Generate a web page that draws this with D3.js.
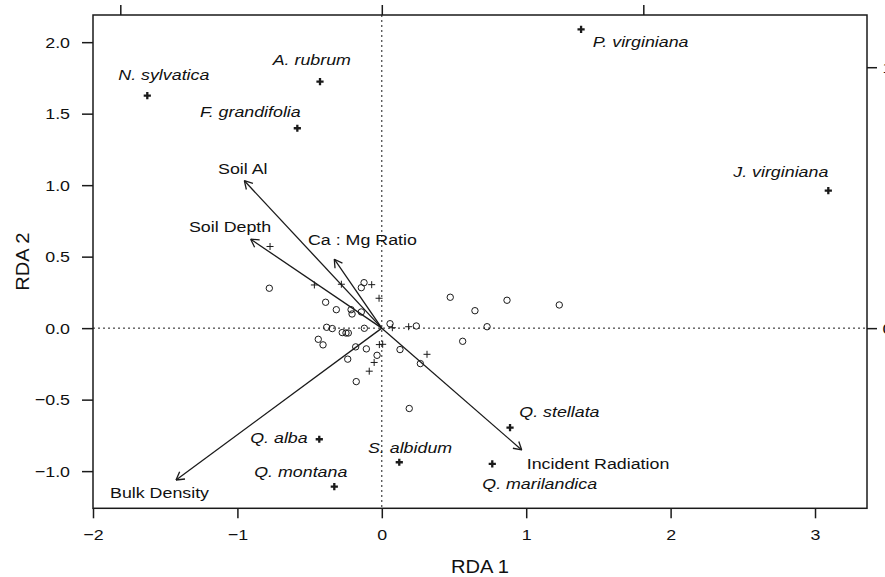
<!DOCTYPE html>
<html>
<head>
<meta charset="utf-8">
<script src="https://cdn.jsdelivr.net/npm/d3@7"></script>
<style>
body { margin: 0; background: #fff; }
text { font-family: "Liberation Sans", Arial, sans-serif; fill: #111; }
</style>
</head>
<body>
<div id="chart"></div>
<script>
// site scores drawn as open circles
var circleX = [-0.779, -0.123, -0.142, -0.389, -0.315, -0.213, -0.206, -0.142, 0.057, 0.239,
  -0.382, -0.343, -0.274, -0.248, -0.232, -0.121, -0.440, -0.407, -0.181, -0.107,
  -0.033, -0.236, 0.126, 0.267, -0.177, 0.190, 0.474, 0.645, 0.867, 1.229, 0.729, 0.560];
var circleY = [0.279, 0.318, 0.283, 0.181, 0.129, 0.129, 0.099, 0.113, 0.031, 0.015,
  0.006, -0.003, -0.031, -0.034, -0.034, -0.001, -0.078, -0.117, -0.131, -0.145,
  -0.190, -0.217, -0.150, -0.248, -0.374, -0.562, 0.216, 0.122, 0.195, 0.162, 0.010, -0.092];

// site scores drawn as small crosses
var crossX = [-0.774, -0.467, -0.280, -0.070, -0.019, 0.073, 0.186, -0.017, 0.006, -0.053, -0.087, 0.313];
var crossY = [0.571, 0.302, 0.307, 0.304, 0.209, 0.003, 0.010, -0.115, -0.113, -0.240, -0.301, -0.183];

// species scores
var speciesNames = ["P. virginiana", "A. rubrum", "N. sylvatica", "F. grandifolia", "J. virginiana",
  "Q. stellata", "Q. alba", "S. albidum", "Q. marilandica", "Q. montana"];
var speciesX = [1.380, -0.428, -1.624, -0.585, 3.092, 0.888, -0.433, 0.121, 0.765, -0.329];
var speciesY = [2.090, 1.724, 1.626, 1.398, 0.962, -0.696, -0.777, -0.938, -0.950, -1.108];

// environmental vectors
var envNames = ["Soil Al", "Soil Depth", "Ca : Mg Ratio", "Bulk Density", "Incident Radiation"];
var envX = [-0.952, -0.908, -0.329, -1.425, 0.969];
var envY = [1.031, 0.622, 0.482, -1.062, -0.852];

var xTicks = [-2, -1, 0, 1, 2, 3];
var yTicks = [-1.0, -0.5, 0.0, 0.5, 1.0, 1.5, 2.0];
var topTicks = [-1, 0, 1];
var rightTicks = [0, 1];

var svgWidth = 885;
var svgHeight = 577;

var margin = { top: 15, right: 18, bottom: 68.7, left: 93 };
var width = svgWidth - margin.left - margin.right;
var height = svgHeight - margin.top - margin.bottom;

var fontSize = 15.5;
var titleSize = 17.5;
var sx = 1.15; // text in the figure is a bit wider than tall

var svg = d3.select("#chart")
  .append("svg")
  .attr("width", svgWidth)
  .attr("height", svgHeight);

var chartGroup = svg.append("g")
  .attr("transform", `translate(${margin.left}, ${margin.top})`);

var xScale = d3.scaleLinear().domain([-2, 3.36]).range([0, width]);
var yScale = d3.scaleLinear().domain([-1.26, 2.19]).range([height, 0]);

// secondary scales on top / right
var x2Scale = d3.scaleLinear().domain([-2 * 0.5522, 3.36 * 0.5522]).range([0, width]);
var y2Scale = d3.scaleLinear().domain([-1.26 * 0.548, 2.19 * 0.548]).range([height, 0]);

var ink = "#1a1a1a";

function addLabel(px, py, str, anchor, italic, size) {
  chartGroup.append("text")
    .attr("transform", `translate(${px},${py}) scale(${sx},1)`)
    .attr("text-anchor", anchor)
    .attr("font-size", size || fontSize)
    .attr("font-style", italic ? "italic" : null)
    .text(str);
}

// zero lines
chartGroup.append("line")
  .attr("x1", xScale(0)).attr("x2", xScale(0))
  .attr("y1", 0).attr("y2", height)
  .attr("stroke", ink).attr("stroke-width", 1).attr("stroke-dasharray", "2,3");
chartGroup.append("line")
  .attr("x1", 0).attr("x2", width)
  .attr("y1", yScale(0)).attr("y2", yScale(0))
  .attr("stroke", ink).attr("stroke-width", 1).attr("stroke-dasharray", "2,3");

// axes
var bottomAxis = d3.axisBottom(xScale).tickValues(xTicks).tickFormat(d3.format("d")).tickSize(10).tickPadding(11);
var leftAxis = d3.axisLeft(yScale).tickValues(yTicks).tickFormat(d3.format(".1f")).tickSize(11);
// top labels fall outside the picture, so only the ticks are drawn
var topAxis = d3.axisTop(x2Scale).tickValues(topTicks).tickFormat("").tickSize(10);
var rightAxis = d3.axisRight(y2Scale).tickValues(rightTicks).tickFormat(d3.format("d")).tickSize(10);

var gb = chartGroup.append("g").attr("transform", `translate(0, ${height})`).call(bottomAxis);
var gl = chartGroup.append("g").call(leftAxis);
var gt = chartGroup.append("g").call(topAxis);
var gr = chartGroup.append("g").attr("transform", `translate(${width}, 0)`).call(rightAxis);

[gb, gl, gt, gr].forEach(function(g) {
  g.select(".domain").remove();
  g.selectAll(".tick line").attr("stroke", ink).attr("stroke-width", 1.5);
  g.selectAll(".tick text")
    .attr("font-size", fontSize)
    .attr("font-family", null)
    .attr("fill", "#111");
});
gt.selectAll(".tick text").remove();
gb.selectAll(".tick text").attr("transform", `scale(${sx},1)`);
gl.selectAll(".tick text").attr("x", -23 / sx).attr("transform", `scale(${sx},1)`);
gr.selectAll(".tick text").attr("x", 15.5 / sx).attr("transform", `scale(${sx},1)`);

// frame
chartGroup.append("rect")
  .attr("x", 0).attr("y", 0)
  .attr("width", width).attr("height", height)
  .attr("fill", "none").attr("stroke", ink).attr("stroke-width", 1.5);

// environmental arrows
var envIdx = d3.range(envNames.length);
var headLen = 9;
envIdx.forEach(function(i) {
  var x0 = xScale(0), y0 = yScale(0);
  var x1 = xScale(envX[i]), y1 = yScale(envY[i]);
  var ang = Math.atan2(y1 - y0, x1 - x0);
  chartGroup.append("line")
    .attr("x1", x0).attr("y1", y0).attr("x2", x1).attr("y2", y1)
    .attr("stroke", ink).attr("stroke-width", 1.3);
  [-Math.PI / 6, Math.PI / 6].forEach(function(a) {
    chartGroup.append("line")
      .attr("x1", x1).attr("y1", y1)
      .attr("x2", x1 - headLen * Math.cos(ang + a))
      .attr("y2", y1 - headLen * Math.sin(ang + a))
      .attr("stroke", ink).attr("stroke-width", 1.3);
  });
});

// where each arrow label sits relative to its arrow tip (px)
var envLabelPlace = {
  "Soil Al": [-26.3, -6.7, "start"],
  "Soil Depth": [-61.7, -7.6, "start"],
  "Ca : Mg Ratio": [-26.3, -14.3, "start"],
  "Bulk Density": [-66, 18, "start"],
  "Incident Radiation": [5, 19.3, "start"]
};
envIdx.forEach(function(i) {
  var p = envLabelPlace[envNames[i]];
  addLabel(xScale(envX[i]) + p[0], yScale(envY[i]) + p[1], envNames[i], p[2], false);
});

// site circles
chartGroup.selectAll("circle.site")
  .data(d3.range(circleX.length))
  .enter()
  .append("circle")
  .attr("class", "site")
  .attr("cx", i => xScale(circleX[i]))
  .attr("cy", i => yScale(circleY[i]))
  .attr("r", 3.2)
  .attr("fill", "none")
  .attr("stroke", ink)
  .attr("stroke-width", 1);

// site crosses
chartGroup.selectAll("path.sitecross")
  .data(d3.range(crossX.length))
  .enter()
  .append("path")
  .attr("class", "sitecross")
  .attr("transform", i => `translate(${xScale(crossX[i])}, ${yScale(crossY[i])})`)
  .attr("d", "M-3.5,0H3.5M0,-3.5V3.5")
  .attr("stroke", ink)
  .attr("stroke-width", 1);

// species crosses
var spIdx = d3.range(speciesNames.length);
chartGroup.selectAll("path.species")
  .data(spIdx)
  .enter()
  .append("path")
  .attr("class", "species")
  .attr("transform", i => `translate(${xScale(speciesX[i])}, ${yScale(speciesY[i])})`)
  .attr("d", "M-3.6,0H3.6M0,-3.6V3.6")
  .attr("stroke", ink)
  .attr("stroke-width", 2.3);

var spLabelPlace = {
  "P. virginiana": [11.7, 17.7, "start"],
  "A. rubrum": [-47.3, -16.7, "start"],
  "N. sylvatica": [-29, -15.7, "start"],
  "F. grandifolia": [3.4, -11, "end"],
  "J. virginiana": [0, -14, "end"],
  "Q. stellata": [9.3, -11, "start"],
  "Q. alba": [-11.6, 3.4, "end"],
  "S. albidum": [-31.3, -9, "start"],
  "Q. marilandica": [-10, 25, "start"],
  "Q. montana": [13, -10, "end"]
};
spIdx.forEach(function(i) {
  var p = spLabelPlace[speciesNames[i]];
  addLabel(xScale(speciesX[i]) + p[0], yScale(speciesY[i]) + p[1], speciesNames[i], p[2], true);
});

// axis titles
addLabel(width / 2, 573 - margin.top, "RDA 1", "middle", false, titleSize);
chartGroup.append("text")
  .attr("transform", `translate(${29 - margin.left}, ${height / 2}) rotate(-90) scale(${sx},1)`)
  .attr("text-anchor", "middle")
  .attr("font-size", titleSize)
  .text("RDA 2");
</script>
</body>
</html>
